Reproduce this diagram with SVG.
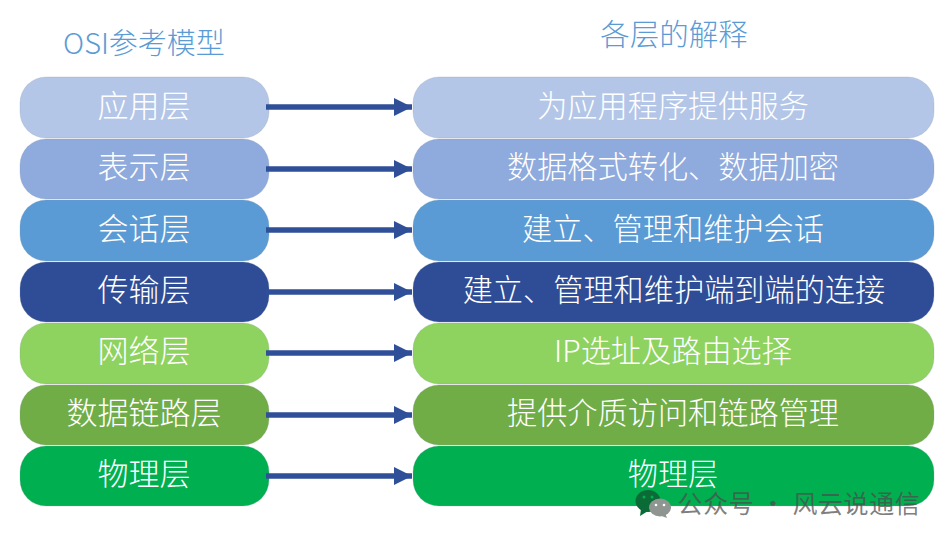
<svg xmlns="http://www.w3.org/2000/svg" width="949" height="542" viewBox="0 0 949 542">
<style>
text{font-family:"Noto Sans CJK SC","Noto Sans",sans-serif;text-anchor:middle}
.l{font-size:30.200px;fill:#fff;font-weight:300}
.s{font-size:31px}
.h{font-size:29.500px;fill:#5b9bd5;font-weight:300}
.t{font-size:29px}
.b{stroke:#8f9aa8;stroke-opacity:.25;stroke-width:1}
.c{stroke:#2f4f99;stroke-width:5.500;fill:none;marker-end:url(#a)}
.n1{fill:#b4c6e7}.n2{fill:#8faadc}.n3{fill:#5b9bd5}.n4{fill:#2f4d96}.n5{fill:#8ed35f}.n6{fill:#70ad47}.n7{fill:#00b050}
</style>
<defs><marker id="a" markerUnits="userSpaceOnUse" markerWidth="19" markerHeight="20" refX="18" refY="10" orient="auto"><path d="M0 1L18 10L0 19Z" fill="#2f4f99"/></marker></defs>
<rect width="949" height="542" fill="#fff"/>
<g id="title-left"><text class="h t" x="144" y="54">OSI参考模型</text></g>
<g id="title-right"><text class="h" x="674" y="45">各层的解释</text></g>
<g id="n1l"><rect class="b n1" x="20" y="77" width="249" height="61" rx="26"/><text class="l s" x="144" y="117">应用层</text></g>
<g id="n2l"><rect class="b n2" x="20" y="139" width="249" height="60" rx="26"/><text class="l s" x="144" y="178">表示层</text></g>
<g id="n3l"><rect class="b n3" x="20" y="200" width="249" height="61" rx="26"/><text class="l s" x="144" y="240">会话层</text></g>
<g id="n4l"><rect class="b n4" x="20" y="262" width="249" height="60" rx="26"/><text class="l s" x="144" y="301">传输层</text></g>
<g id="n5l"><rect class="b n5" x="20" y="323" width="249" height="61" rx="26"/><text class="l s" x="144" y="362">网络层</text></g>
<g id="n6l"><rect class="b n6" x="20" y="385" width="249" height="60" rx="26"/><text class="l s" x="144" y="424">数据链路层</text></g>
<g id="n7l"><rect class="b n7" x="20" y="446" width="249" height="60" rx="26"/><text class="l s" x="144" y="485">物理层</text></g>
<g id="n1r"><rect class="b n1" x="413" y="77" width="521" height="61" rx="26"/><text class="l" x="673" y="117">为应用程序提供服务</text></g>
<g id="n2r"><rect class="b n2" x="413" y="139" width="521" height="60" rx="26"/><text class="l" x="673" y="178">数据格式转化、数据加密</text></g>
<g id="n3r"><rect class="b n3" x="413" y="200" width="521" height="61" rx="26"/><text class="l" x="673" y="240">建立、管理和维护会话</text></g>
<g id="n4r"><rect class="b n4" x="413" y="262" width="521" height="60" rx="26"/><text class="l" x="674" y="301">建立、管理和维护端到端的连接</text></g>
<g id="n5r"><rect class="b n5" x="413" y="323" width="521" height="61" rx="26"/><text class="l" x="673" y="362">IP选址及路由选择</text></g>
<g id="n6r"><rect class="b n6" x="413" y="385" width="521" height="60" rx="26"/><text class="l" x="673" y="424">提供介质访问和链路管理</text></g>
<g id="n7r"><rect class="b n7" x="413" y="446" width="521" height="60" rx="26"/><text class="l" x="673" y="485">物理层</text></g>
<g id="connectors">
<path class="c" d="M266 107H412"/><path class="c" d="M266 169H412"/><path class="c" d="M266 230H412"/><path class="c" d="M266 292H412"/><path class="c" d="M266 353H412"/><path class="c" d="M266 415H412"/><path class="c" d="M266 476H412"/>
</g>
<g id="watermark">
<path d="M641 509L640 516L648 511Z" fill="#0a6b36"/>
<ellipse cx="648" cy="501" rx="12.500" ry="11" fill="#0a6b36"/>
<circle cx="644" cy="497" r="1.500" fill="#00b050"/><circle cx="652" cy="497" r="1.500" fill="#00b050"/>
<path d="M665 513L667 518L659 515Z" fill="#8f9692"/>
<ellipse cx="660" cy="507.500" rx="11" ry="9" fill="#8f9692"/>
<circle cx="656" cy="505" r="1.300" fill="#fff"/><circle cx="664" cy="505" r="1.300" fill="#fff"/>
<text x="799" y="513" style="font-size:25px;fill:#4d4d4d;fill-opacity:.72;letter-spacing:.6px;font-weight:400">公众号 · 风云说通信</text>
</g>
</svg>
